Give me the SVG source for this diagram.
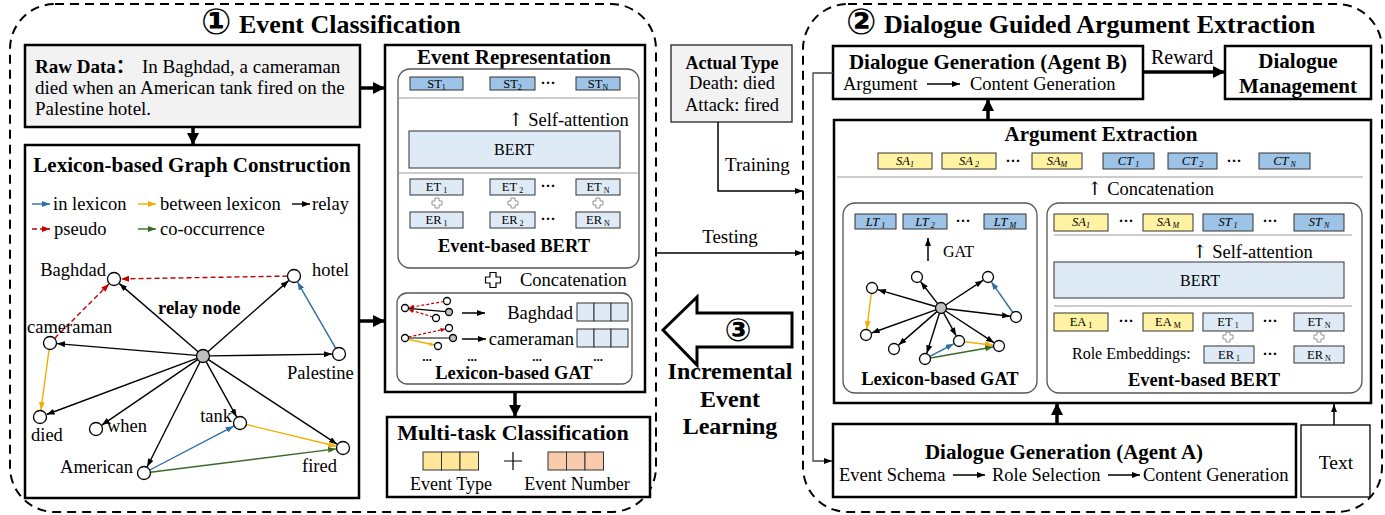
<svg xmlns="http://www.w3.org/2000/svg" width="1385" height="515" viewBox="0 0 1385 515">
<defs>
<style>
text{font-family:"Liberation Serif","Times New Roman",serif;fill:#000}
.b{font-weight:bold}
.m{text-anchor:middle}
.e{text-anchor:end}
.i{font-style:italic}
.cd{font-family:"DejaVu Sans",sans-serif;font-weight:bold}
.ar{font-family:"DejaVu Serif",serif;fill:#000}
.panel{fill:none;stroke:#000;stroke-width:2;stroke-dasharray:9 6}
.box{fill:#fff;stroke:#000;stroke-width:2.5}
.gbox{fill:#f2f2f2;stroke:#000;stroke-width:2.5}
.thin{fill:#fff;stroke:#000;stroke-width:1.3}
.inner{fill:#fff;stroke:#555;stroke-width:1.3}
.sep{stroke:#999;stroke-width:1}
.dk{fill:#9dc3e6;stroke:#333;stroke-width:1}
.lt{fill:#deebf7;stroke:#333;stroke-width:1}
.yl{fill:#fff2a3;stroke:#333;stroke-width:1}
.ye{fill:#ffe699;stroke:#333;stroke-width:1}
.or{fill:#f8cbad;stroke:#333;stroke-width:1}
.node{fill:#fff;stroke:#000;stroke-width:1.3}
.hub{fill:#bfbfbf;stroke:#000;stroke-width:1.3}
.rel{stroke:#000;stroke-width:1.4;fill:none;marker-end:url(#ak)}
.inl{stroke:#2e6da4;stroke-width:1.4;fill:none;marker-end:url(#ab)}
.btw{stroke:#f0b000;stroke-width:1.4;fill:none;marker-end:url(#ay)}
.pse{stroke:#c00000;stroke-width:1.4;fill:none;stroke-dasharray:5 3;marker-end:url(#ar)}
.coo{stroke:#3a6b24;stroke-width:1.4;fill:none;marker-end:url(#ag)}
.flow{stroke:#000;stroke-width:1.5;fill:none;marker-end:url(#ak)}
.fat{stroke:#000;stroke-width:3.5;fill:none;marker-end:url(#aK)}
.pl{fill:#fff;stroke:#888;stroke-width:0.9}
.s{font-size:12.5px}
.sub{font-size:8px}
.dots{font-size:15px;font-weight:bold}
</style>
<marker id="ak" markerWidth="8" markerHeight="6" refX="8" refY="3" orient="auto" markerUnits="userSpaceOnUse"><path d="M0,0L8,3L0,6z" fill="#000"/></marker>
<marker id="ab" markerWidth="8" markerHeight="6" refX="8" refY="3" orient="auto" markerUnits="userSpaceOnUse"><path d="M0,0L8,3L0,6z" fill="#2e6da4"/></marker>
<marker id="ay" markerWidth="8" markerHeight="6" refX="8" refY="3" orient="auto" markerUnits="userSpaceOnUse"><path d="M0,0L8,3L0,6z" fill="#f0b000"/></marker>
<marker id="ar" markerWidth="8" markerHeight="6" refX="8" refY="3" orient="auto" markerUnits="userSpaceOnUse"><path d="M0,0L8,3L0,6z" fill="#c00000"/></marker>
<marker id="ag" markerWidth="8" markerHeight="6" refX="8" refY="3" orient="auto" markerUnits="userSpaceOnUse"><path d="M0,0L8,3L0,6z" fill="#3a6b24"/></marker>
<marker id="aK" markerWidth="14" markerHeight="12" refX="12" refY="6" orient="auto" markerUnits="userSpaceOnUse"><path d="M0,0L12,6L0,12z" fill="#000"/></marker>
<marker id="sr" markerWidth="5" markerHeight="4" refX="5" refY="2" orient="auto" markerUnits="userSpaceOnUse"><path d="M0,0L5,2L0,4z" fill="#c00000"/></marker>
<marker id="sy" markerWidth="5" markerHeight="4" refX="5" refY="2" orient="auto" markerUnits="userSpaceOnUse"><path d="M0,0L5,2L0,4z" fill="#f0b000"/></marker>
<path id="plus" d="M-2,-5h4v3h3v4h-3v3h-4v-3h-3v-4h3z"/>
</defs>

<!-- panels -->
<g id="panel-event-classification">
<rect class="panel" x="10" y="4" width="646" height="508" rx="45"/>
<text x="201" y="34" style="font-size:26px"><tspan class="cd" style="font-size:36px">①</tspan><tspan class="b" x="239" y="33">Event Classification</tspan></text>
</g>
<g id="panel-argument-extraction">
<rect class="panel" x="803" y="4" width="579" height="508" rx="45"/>
<text x="846" y="34" style="font-size:26px"><tspan class="cd" style="font-size:36px">②</tspan><tspan class="b" x="884" y="33">Dialogue Guided Argument Extraction</tspan></text>
</g>

<!-- Raw data -->
<g id="raw-data">
<rect class="gbox" x="25" y="45" width="335" height="82"/>
<text x="35" y="73" style="font-size:19px"><tspan class="b">Raw Data</tspan><tspan class="b" style="font-family:'Noto Sans CJK SC',sans-serif">：</tspan><tspan x="142">In Baghdad, a cameraman</tspan></text>
<text x="35" y="94" style="font-size:19px">died when an American tank fired on the</text>
<text x="35" y="115" style="font-size:19px">Palestine hotel.</text>
</g>

<!-- Lexicon graph construction -->
<g id="lexicon-graph">
<rect class="box" x="25" y="145" width="334" height="353"/>
<text class="b m" x="192" y="172" style="font-size:21px">Lexicon-based Graph Construction</text>
<g id="legend" style="font-size:18.5px">
<line class="inl" x1="32" y1="204" x2="50" y2="204"/><text x="53" y="210">in lexicon</text>
<line class="btw" x1="138" y1="204" x2="156" y2="204"/><text x="160" y="210">between lexicon</text>
<line class="rel" x1="292" y1="204" x2="310" y2="204"/><text x="312" y="210">relay</text>
<line class="pse" x1="32" y1="229" x2="50" y2="229"/><text x="54" y="235">pseudo</text>
<line class="coo" x1="138" y1="229" x2="156" y2="229"/><text x="160" y="235">co-occurrence</text>
</g>
<g id="graph-edges">
<line class="rel" x1="198.1" y1="351.7" x2="119.3" y2="283.6"/>
<line class="rel" x1="207.9" y1="351.7" x2="288.7" y2="280.6"/>
<line class="rel" x1="196.5" y1="355.4" x2="57" y2="343.6"/>
<line class="rel" x1="209.5" y1="355.9" x2="332" y2="354.1"/>
<line class="rel" x1="196.9" y1="358.3" x2="46.6" y2="414.5"/>
<line class="rel" x1="197.6" y1="359.7" x2="101.8" y2="425.1"/>
<line class="rel" x1="206.1" y1="361.7" x2="236.6" y2="416.9"/>
<line class="rel" x1="208.4" y1="359.6" x2="337.1" y2="444.2"/>
<line class="rel" x1="200.1" y1="361.8" x2="147.2" y2="466.7"/>
<line class="pse" x1="287.5" y1="276.1" x2="121" y2="278.9"/>
<line class="pse" x1="54.6" y1="338.4" x2="109.1" y2="283.9"/>
<line class="inl" x1="335.8" y1="348.4" x2="297.5" y2="282.1"/>
<line class="btw" x1="49.1" y1="349.4" x2="40.9" y2="410.1"/>
<line class="inl" x1="149.8" y1="470" x2="233.8" y2="426.2"/>
<line class="btw" x1="246.3" y1="424.5" x2="336.2" y2="446.3"/>
<line class="coo" x1="150.4" y1="472.2" x2="336.1" y2="448.9"/>
</g>
<g id="graph-nodes">
<circle class="node" cx="114" cy="279" r="6.5"/>
<circle class="node" cx="294" cy="276" r="6.5"/>
<circle class="node" cx="50" cy="343" r="6.5"/>
<circle class="node" cx="339" cy="354" r="6.5"/>
<circle class="node" cx="40" cy="417" r="6.5"/>
<circle class="node" cx="96" cy="429" r="6.5"/>
<circle class="node" cx="240" cy="423" r="6.5"/>
<circle class="node" cx="343" cy="448" r="6.5"/>
<circle class="node" cx="144" cy="473" r="6.5"/>
<circle class="hub" cx="203" cy="356" r="6.5"/>
</g>
<g id="graph-labels" style="font-size:18.5px">
<text class="e" x="106" y="276">Baghdad</text>
<text x="312" y="276">hotel</text>
<text x="27" y="333">cameraman</text>
<text x="287" y="379">Palestine</text>
<text x="31" y="441">died</text>
<text x="107" y="432">when</text>
<text class="e" x="232" y="422">tank</text>
<text x="302" y="472">fired</text>
<text class="e" x="133" y="473">American</text>
<text class="b" x="158" y="314">relay node</text>
</g>
</g>

<!-- Event representation -->
<g id="event-representation">
<rect class="box" x="385" y="45" width="260" height="347"/>
<text class="b m" x="514" y="64" style="font-size:21px">Event Representation</text>
<g id="event-based-bert-left">
<rect class="inner" x="398" y="69" width="241" height="199" rx="12"/>
<rect class="dk" x="410" y="77" width="53" height="13"/><text class="s m" x="436.5" y="88">ST<tspan class="sub" dy="2">1</tspan></text>
<rect class="dk" x="490" y="77" width="45" height="13"/><text class="s m" x="512.5" y="88">ST<tspan class="sub" dy="2">2</tspan></text>
<text class="dots m" x="548" y="88">···</text>
<rect class="dk" x="576" y="77" width="44" height="13"/><text class="s m" x="598" y="88">ST<tspan class="sub" dy="2">N</tspan></text>
<line class="sep" x1="398" y1="98" x2="639" y2="98"/>
<text x="508" y="126" style="font-size:18.5px"><tspan class="ar">↑</tspan> Self-attention</text>
<rect class="lt" x="409" y="131" width="211" height="37"/>
<text class="m" x="514" y="155" style="font-size:16px">BERT</text>
<line class="sep" x1="398" y1="173" x2="639" y2="173"/>
<rect class="lt" x="410" y="179" width="53" height="16"/><text class="s m" x="436.5" y="191">ET<tspan class="sub" dy="2"> 1</tspan></text>
<rect class="lt" x="490" y="179" width="45" height="16"/><text class="s m" x="512.5" y="191">ET<tspan class="sub" dy="2"> 2</tspan></text>
<text class="dots m" x="548" y="191">···</text>
<rect class="lt" x="576" y="179" width="44" height="16"/><text class="s m" x="598" y="191">ET<tspan class="sub" dy="2"> N</tspan></text>
<use href="#plus" class="pl" x="437" y="203"/>
<use href="#plus" class="pl" x="513" y="203"/>
<use href="#plus" class="pl" x="598" y="203"/>
<rect class="lt" x="410" y="212" width="53" height="16"/><text class="s m" x="436.5" y="224">ER<tspan class="sub" dy="2"> 1</tspan></text>
<rect class="lt" x="490" y="212" width="45" height="16"/><text class="s m" x="512.5" y="224">ER<tspan class="sub" dy="2"> 2</tspan></text>
<text class="dots m" x="548" y="224">···</text>
<rect class="lt" x="576" y="212" width="44" height="16"/><text class="s m" x="598" y="224">ER<tspan class="sub" dy="2"> N</tspan></text>
<text class="b m" x="514" y="252" style="font-size:18.5px">Event-based BERT</text>
</g>
<use href="#plus" class="pl" transform="translate(493,280) scale(1.5)" style="stroke:#000;stroke-width:0.8"/>
<text x="520" y="286" style="font-size:18.5px">Concatenation</text>
<g id="lexicon-gat-left">
<rect class="inner" x="397" y="293" width="235" height="91" rx="10"/>
<line x1="408.5" y1="308.3" x2="445.5" y2="311.7" stroke="#000" stroke-width="1.2"/>
<line x1="444" y1="301.5" x2="409" y2="307.5" stroke="#c00000" stroke-width="1.2" stroke-dasharray="3 2" marker-end="url(#sr)"/>
<line x1="433" y1="317" x2="408.5" y2="309.5" stroke="#c00000" stroke-width="1.2" stroke-dasharray="3 2" marker-end="url(#sr)"/>
<circle class="node" cx="405" cy="308" r="3.5"/><circle class="node" cx="447" cy="301" r="3.5"/>
<circle class="hub" cx="449" cy="312" r="3.5"/><circle class="node" cx="436" cy="318" r="3.5"/>
<line x1="408.5" y1="338" x2="449.5" y2="338" stroke="#000" stroke-width="1.2"/>
<line x1="408.5" y1="337" x2="445.5" y2="329" stroke="#c00000" stroke-width="1.2" stroke-dasharray="3 2" marker-end="url(#sr)"/>
<line x1="408.5" y1="339.5" x2="434.5" y2="345" stroke="#f0b000" stroke-width="1.4" marker-end="url(#sy)"/>
<circle class="node" cx="405" cy="338" r="3.5"/><circle class="node" cx="449" cy="328" r="3.5"/>
<circle class="hub" cx="453" cy="338" r="3.5"/><circle class="node" cx="438" cy="346" r="3.5"/>
<line class="flow" x1="462" y1="313" x2="485" y2="313"/>
<line class="flow" x1="462" y1="339" x2="486" y2="339"/>
<text class="e" x="573" y="319" style="font-size:18.5px">Baghdad</text>
<text class="e" x="574" y="345" style="font-size:18.5px">cameraman</text>
<rect class="lt" x="577" y="303" width="17" height="18"/><rect class="lt" x="594" y="303" width="17" height="18"/><rect class="lt" x="611" y="303" width="17" height="18"/>
<rect class="lt" x="577" y="329" width="17" height="18"/><rect class="lt" x="594" y="329" width="17" height="18"/><rect class="lt" x="611" y="329" width="17" height="18"/>
<g class="b m" style="font-size:13px"><text x="427" y="361">...</text><text x="472" y="361">...</text><text x="537" y="361">...</text><text x="598" y="361">...</text></g>
<text class="b m" x="514" y="379" style="font-size:18.5px">Lexicon-based GAT</text>
</g>
</g>

<!-- Multi-task -->
<g id="multi-task-classification">
<rect class="box" x="387" y="417" width="263" height="80"/>
<text class="b m" x="513" y="440" style="font-size:22px">Multi-task Classification</text>
<rect class="ye" x="423" y="452" width="18.5" height="18"/><rect class="ye" x="441.5" y="452" width="18.5" height="18"/><rect class="ye" x="460" y="452" width="18.5" height="18"/>
<path d="M504,461h18M513,452v18" stroke="#000" stroke-width="1.2"/>
<rect class="or" x="548" y="452" width="18.5" height="18"/><rect class="or" x="566.5" y="452" width="18.5" height="18"/><rect class="or" x="585" y="452" width="18.5" height="18"/>
<text class="m" x="451" y="490" style="font-size:18px">Event Type</text>
<text class="m" x="577" y="490" style="font-size:18px">Event Number</text>
</g>

<!-- Actual type -->
<g id="actual-type">
<rect x="671" y="45" width="121" height="77" fill="#f2f2f2" stroke="#222" stroke-width="1.3"/>
<text class="b m" x="732" y="69" style="font-size:18px">Actual Type</text>
<text class="m" x="732" y="89" style="font-size:18.5px">Death: died</text>
<text class="m" x="732" y="111" style="font-size:18.5px">Attack: fired</text>
</g>

<!-- Incremental arrow -->
<g id="incremental-event-learning">
<path d="M663,330L697,297L697,313L792,313L792,347L697,347L697,365Z" fill="#fff" stroke="#000" stroke-width="3"/>
<text class="cd m" x="738" y="341" style="font-size:32px">③</text>
<text class="b m" x="730" y="379" style="font-size:24px">Incremental</text>
<text class="b m" x="730" y="407" style="font-size:24px">Event</text>
<text class="b m" x="730" y="434" style="font-size:24px">Learning</text>
</g>

<!-- Agent B -->
<g id="dialogue-generation-b">
<rect class="box" x="833" y="46" width="310" height="53"/>
<text class="b m" x="988" y="69" style="font-size:21px">Dialogue Generation (Agent B)</text>
<text x="843" y="90" style="font-size:18.5px">Argument</text>
<text x="970" y="90" style="font-size:18.5px">Content Generation</text>
</g>
<g id="dialogue-management">
<rect class="box" x="1225" y="46" width="146" height="53"/>
<text class="b m" x="1298" y="68" style="font-size:21px">Dialogue</text>
<text class="b m" x="1298" y="93" style="font-size:21px">Management</text>
</g>

<!-- Argument Extraction -->
<g id="argument-extraction">
<rect class="box" x="834" y="120" width="537" height="283"/>
<text class="b m" x="1101" y="141" style="font-size:21px">Argument Extraction</text>
<rect class="yl" x="878" y="153" width="54" height="16"/><text class="s m i" x="905" y="165">SA<tspan class="sub" dy="2">1</tspan></text>
<rect class="yl" x="942" y="153" width="54" height="16"/><text class="s m i" x="969" y="165">SA<tspan class="sub" dy="2"> 2</tspan></text>
<text class="dots m" x="1013" y="166">···</text>
<rect class="yl" x="1032" y="153" width="50" height="16"/><text class="s m i" x="1057" y="165">SA<tspan class="sub" dy="2">M</tspan></text>
<rect class="dk" x="1103" y="153" width="51" height="16"/><text class="s m i" x="1128.5" y="165">CT<tspan class="sub" dy="2"> 1</tspan></text>
<rect class="dk" x="1168" y="153" width="49" height="16"/><text class="s m i" x="1192.5" y="165">CT<tspan class="sub" dy="2"> 2</tspan></text>
<text class="dots m" x="1234" y="166">···</text>
<rect class="dk" x="1259" y="153" width="51" height="16"/><text class="s m i" x="1284.5" y="165">CT<tspan class="sub" dy="2"> N</tspan></text>
<line class="sep" x1="837" y1="177" x2="1363" y2="177"/>
<text x="1087" y="195" style="font-size:18.5px"><tspan class="ar">↑</tspan> Concatenation</text>

<g id="lexicon-gat-right">
<rect class="inner" x="843" y="203" width="194" height="190" rx="12"/>
<rect class="dk" x="855" y="214" width="41" height="15"/><text class="s m i" x="875.5" y="226">LT<tspan class="sub" dy="2"> 1</tspan></text>
<rect class="dk" x="903" y="214" width="44" height="15"/><text class="s m i" x="925" y="226">LT<tspan class="sub" dy="2"> 2</tspan></text>
<text class="dots m" x="963" y="226">···</text>
<rect class="dk" x="984" y="214" width="42" height="15"/><text class="s m i" x="1005" y="226">LT<tspan class="sub" dy="2"> M</tspan></text>
<line class="flow" x1="928" y1="261" x2="928" y2="238"/>
<text x="943" y="257" style="font-size:16px">GAT</text>
<line class="rel" x1="935.7" y1="306.5" x2="877.8" y2="289.7"/>
<line class="rel" x1="937.6" y1="303.6" x2="920.7" y2="281.7"/>
<line class="rel" x1="945.6" y1="305" x2="983" y2="280.3"/>
<line class="rel" x1="946.5" y1="308.7" x2="1010" y2="316.3"/>
<line class="rel" x1="935.8" y1="309.9" x2="871.6" y2="333"/>
<line class="rel" x1="936.9" y1="311.6" x2="898.5" y2="345.1"/>
<line class="rel" x1="943.6" y1="312.8" x2="956.1" y2="335.7"/>
<line class="rel" x1="945.6" y1="311" x2="994" y2="342.7"/>
<line class="rel" x1="939.4" y1="313.2" x2="926.8" y2="353.3"/>
<line class="inl" x1="1012.8" y1="312.5" x2="991.4" y2="281.9"/>
<line class="btw" x1="871.3" y1="293.5" x2="866.8" y2="329"/>
<line class="inl" x1="929.9" y1="356.4" x2="953.7" y2="343.8"/>
<line class="btw" x1="964.5" y1="341.7" x2="993" y2="345.3"/>
<line class="coo" x1="930.4" y1="358" x2="993.1" y2="347"/>
<circle class="node" cx="872" cy="288" r="5.5"/>
<circle class="node" cx="917" cy="277" r="5.5"/>
<circle class="node" cx="988" cy="277" r="5.5"/>
<circle class="node" cx="1016" cy="317" r="5.5"/>
<circle class="node" cx="866" cy="335" r="5.5"/>
<circle class="node" cx="894" cy="349" r="5.5"/>
<circle class="node" cx="959" cy="341" r="5.5"/>
<circle class="node" cx="999" cy="346" r="5.5"/>
<circle class="node" cx="925" cy="359" r="5.5"/>
<circle class="hub" cx="941" cy="308" r="5.5"/>
<text class="b m" x="940" y="385" style="font-size:18.5px">Lexicon-based GAT</text>
</g>

<g id="event-based-bert-right">
<rect class="inner" x="1047" y="203" width="315" height="190" rx="12"/>
<rect class="yl" x="1054" y="214" width="54" height="17"/><text class="s m i" x="1081" y="226">SA<tspan class="sub" dy="2">1</tspan></text>
<text class="dots m" x="1126" y="226">···</text>
<rect class="yl" x="1143" y="214" width="50" height="17"/><text class="s m i" x="1168" y="226">SA<tspan class="sub" dy="2"> M</tspan></text>
<rect class="dk" x="1203" y="214" width="50" height="17"/><text class="s m i" x="1228" y="226">ST<tspan class="sub" dy="2"> 1</tspan></text>
<text class="dots m" x="1270" y="226">···</text>
<rect class="dk" x="1294" y="214" width="50" height="17"/><text class="s m i" x="1319" y="226">ST<tspan class="sub" dy="2"> N</tspan></text>
<line class="sep" x1="1054" y1="235" x2="1352" y2="235"/>
<text x="1192" y="258" style="font-size:18.5px"><tspan class="ar">↑</tspan> Self-attention</text>
<rect class="lt" x="1054" y="262" width="290" height="36"/>
<text class="m" x="1200" y="286" style="font-size:16px">BERT</text>
<line class="sep" x1="1054" y1="306" x2="1352" y2="306"/>
<rect class="yl" x="1054" y="313" width="54" height="18"/><text class="s m" x="1081" y="326">EA<tspan class="sub" dy="2"> 1</tspan></text>
<text class="dots m" x="1126" y="326">···</text>
<rect class="yl" x="1143" y="313" width="50" height="18"/><text class="s m" x="1168" y="326">EA<tspan class="sub" dy="2"> M</tspan></text>
<rect class="lt" x="1203" y="313" width="50" height="18"/><text class="s m" x="1228" y="326">ET<tspan class="sub" dy="2"> 1</tspan></text>
<text class="dots m" x="1270" y="326">···</text>
<rect class="lt" x="1294" y="313" width="50" height="18"/><text class="s m" x="1319" y="326">ET<tspan class="sub" dy="2"> N</tspan></text>
<use href="#plus" class="pl" x="1228" y="337"/>
<use href="#plus" class="pl" x="1319" y="337"/>
<text x="1072" y="359" style="font-size:16px">Role Embeddings:</text>
<rect class="lt" x="1204" y="346" width="50" height="17"/><text class="s m" x="1229" y="359">ER<tspan class="sub" dy="2"> 1</tspan></text>
<text class="dots m" x="1270" y="359">···</text>
<rect class="lt" x="1294" y="346" width="50" height="17"/><text class="s m" x="1319" y="359">ER<tspan class="sub" dy="2"> N</tspan></text>
<text class="b m" x="1204" y="386" style="font-size:18.5px">Event-based BERT</text>
</g>
</g>

<!-- Agent A -->
<g id="dialogue-generation-a">
<rect class="box" x="833" y="424" width="463" height="73"/>
<text class="b m" x="1064" y="459" style="font-size:21px">Dialogue Generation (Agent A)</text>
<text x="839" y="481" style="font-size:18.5px">Event Schema</text>
<text x="992" y="481" style="font-size:18.5px">Role Selection</text>
<text x="1143" y="481" style="font-size:18.5px">Content Generation</text>
</g>
<g id="text-input">
<rect class="thin" x="1301" y="425" width="69" height="72"/>
<text class="m" x="1336" y="469" style="font-size:19.5px">Text</text>
</g>

<!-- connectors -->
<g id="connectors">
<line class="fat" x1="193" y1="127" x2="193" y2="145"/>
<line class="fat" x1="360" y1="88" x2="385" y2="88"/>
<line class="fat" x1="359" y1="321" x2="385" y2="321"/>
<line class="fat" x1="515" y1="392" x2="515" y2="417"/>
<polyline class="flow" points="718,122 718,191 803,191"/>
<text x="725" y="171" style="font-size:19px">Training</text>
<line class="flow" x1="656" y1="253" x2="803" y2="253"/>
<text class="m" x="730" y="243" style="font-size:19px">Testing</text>
<line class="flow" x1="927" y1="84" x2="960" y2="84"/>
<line class="flow" x1="953" y1="475" x2="985" y2="475"/>
<line class="flow" x1="1108" y1="475" x2="1140" y2="475"/>
<line class="fat" x1="1143" y1="72" x2="1225" y2="72"/>
<text x="1151" y="64" style="font-size:20px">Reward</text>
<line class="fat" x1="988" y1="120" x2="988" y2="99"/>
<line class="fat" x1="1057" y1="424" x2="1057" y2="403"/>
<line class="flow" x1="1334" y1="425" x2="1334" y2="404"/>
<polyline class="flow" points="833,73 813,73 813,461 832,461" style="stroke:#444;stroke-width:1.3"/>
</g>
</svg>
